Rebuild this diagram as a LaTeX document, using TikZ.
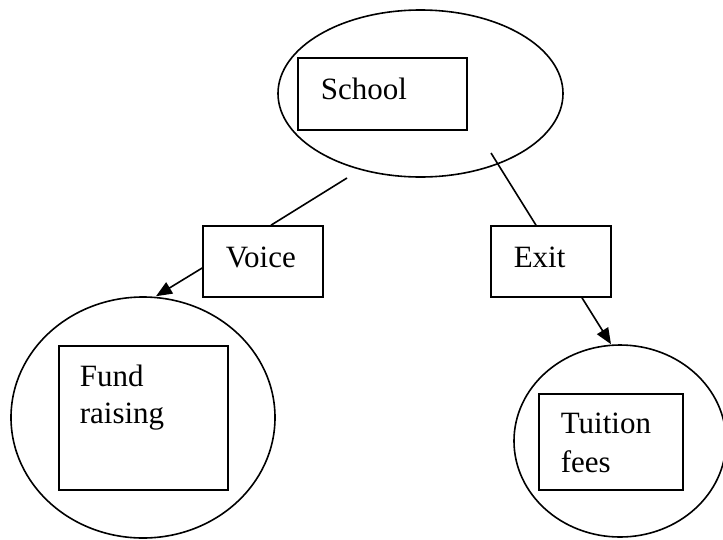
\documentclass[tikz,border=0pt]{standalone}
\usepackage{fontspec}
\setmainfont{Liberation Serif}
\usetikzlibrary{shapes.geometric,arrows.meta}

\begin{document}
\begin{tikzpicture}[x=1pt, y=-1pt, line width=1.6pt,
    every node/.style={inner sep=0pt},
    oval/.style={draw, ellipse},
    box/.style={draw, rectangle},
    lbl/.style={anchor=base west, font=\fontsize{31}{37}\selectfont},
    tip/.style={-{Triangle[length=16pt,width=13pt]}}]
                \useasboundingbox (0,0) rectangle (723,539);
                % ovals
                \node [oval, minimum width=285, minimum height=167] (schoolell) at (420.5,93.5) {};
                \node [oval, minimum width=264, minimum height=241] (fundell) at (143,417.5) {};
                \node [oval, minimum width=212, minimum height=192] (tuitell) at (620,441) {};
                % boxes
                \node [box, minimum width=169, minimum height=72] (school) at (382.5,94) {};
                \node [box, minimum width=120, minimum height=71] (voice) at (263,261.5) {};
                \node [box, minimum width=120, minimum height=71] (exit) at (551,261.5) {};
                \node [box, minimum width=169, minimum height=144] (fund) at (143.5,418) {};
                \node [box, minimum width=144, minimum height=96] (tuit) at (611,442) {};
                % texts
                \node [lbl] (schooltxt) at (320,99) {School};
                \node [lbl] (voicetxt) at (225,267) {Voice};
                \node [lbl] (exittxt) at (513,267) {Exit};
                \node [lbl] (fundtxt) at (79,386) {Fund};
                \node [lbl] (raisetxt) at (79,423) {raising};
                \node [lbl] (tuittxt) at (560,433) {Tuition};
                \node [lbl] (feestxt) at (560,472) {fees};
                % connectors
                \coordinate (vstart) at (347,178);
                \coordinate (estart) at (491,153);
                \draw (vstart) -- ([xshift=8]voice.north);
                \draw (estart) -- ([xshift=-15]exit.north);
                \draw [tip] ([yshift=-6.5]voice.west) -- ([xshift=13]fundell.north);
                \draw [tip] ([xshift=31]exit.south) -- ([xshift=-9]tuitell.north);
            \end{tikzpicture}
\end{document}
